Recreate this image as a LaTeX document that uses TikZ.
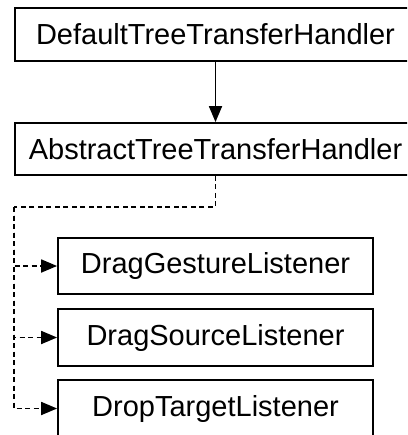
\documentclass[tikz,border=0pt]{standalone}
\usepackage{fontspec}
\setmainfont{Liberation Sans}
\usetikzlibrary{arrows.meta}

\begin{document}
\begin{tikzpicture}[x=1pt, y=-1pt]
\tikzset{cls/.style = {shape=rectangle, draw, line width=1.8pt, inner sep=0pt, font=\fontsize{29}{34}\selectfont}}
    \tikzset{inherit/.style = {draw=black, line width=1.8pt, -{Triangle[length=16pt,width=13pt]}}}
    \tikzset{impl/.style = {inherit, dash pattern=on 5pt off 3.5pt}}
\useasboundingbox (0,0) rectangle (407,435);
\clip (0,0) rectangle (407,435);
% Define the classes
\node[cls, minimum width=401pt, minimum height=53pt] (default) at (215.5,34.5){DefaultTreeTransferHandler};
\node[cls, minimum width=401pt, minimum height=52pt] (abstract) at (215.5,149){AbstractTreeTransferHandler};
\node[cls, minimum width=315pt, minimum height=56pt] (gesture) at (215.5,266){DragGestureListener};
\node[cls, minimum width=315pt, minimum height=57pt] (source) at (215.5,337.5){DragSourceListener};
\node[cls, minimum width=315pt, minimum height=57pt] (target) at (215.5,408.5){DropTargetListener};
\coordinate (split) at (14,207);

% Draw the connectors
\draw[inherit] (default) to (abstract);
\draw[impl, -] (abstract.south) |- (split);
\draw[impl] (split) |- (gesture.west);
\draw[impl] (split) |- (source.west);
\draw[impl] (split) |- (target.west);
\end{tikzpicture}
\end{document}
